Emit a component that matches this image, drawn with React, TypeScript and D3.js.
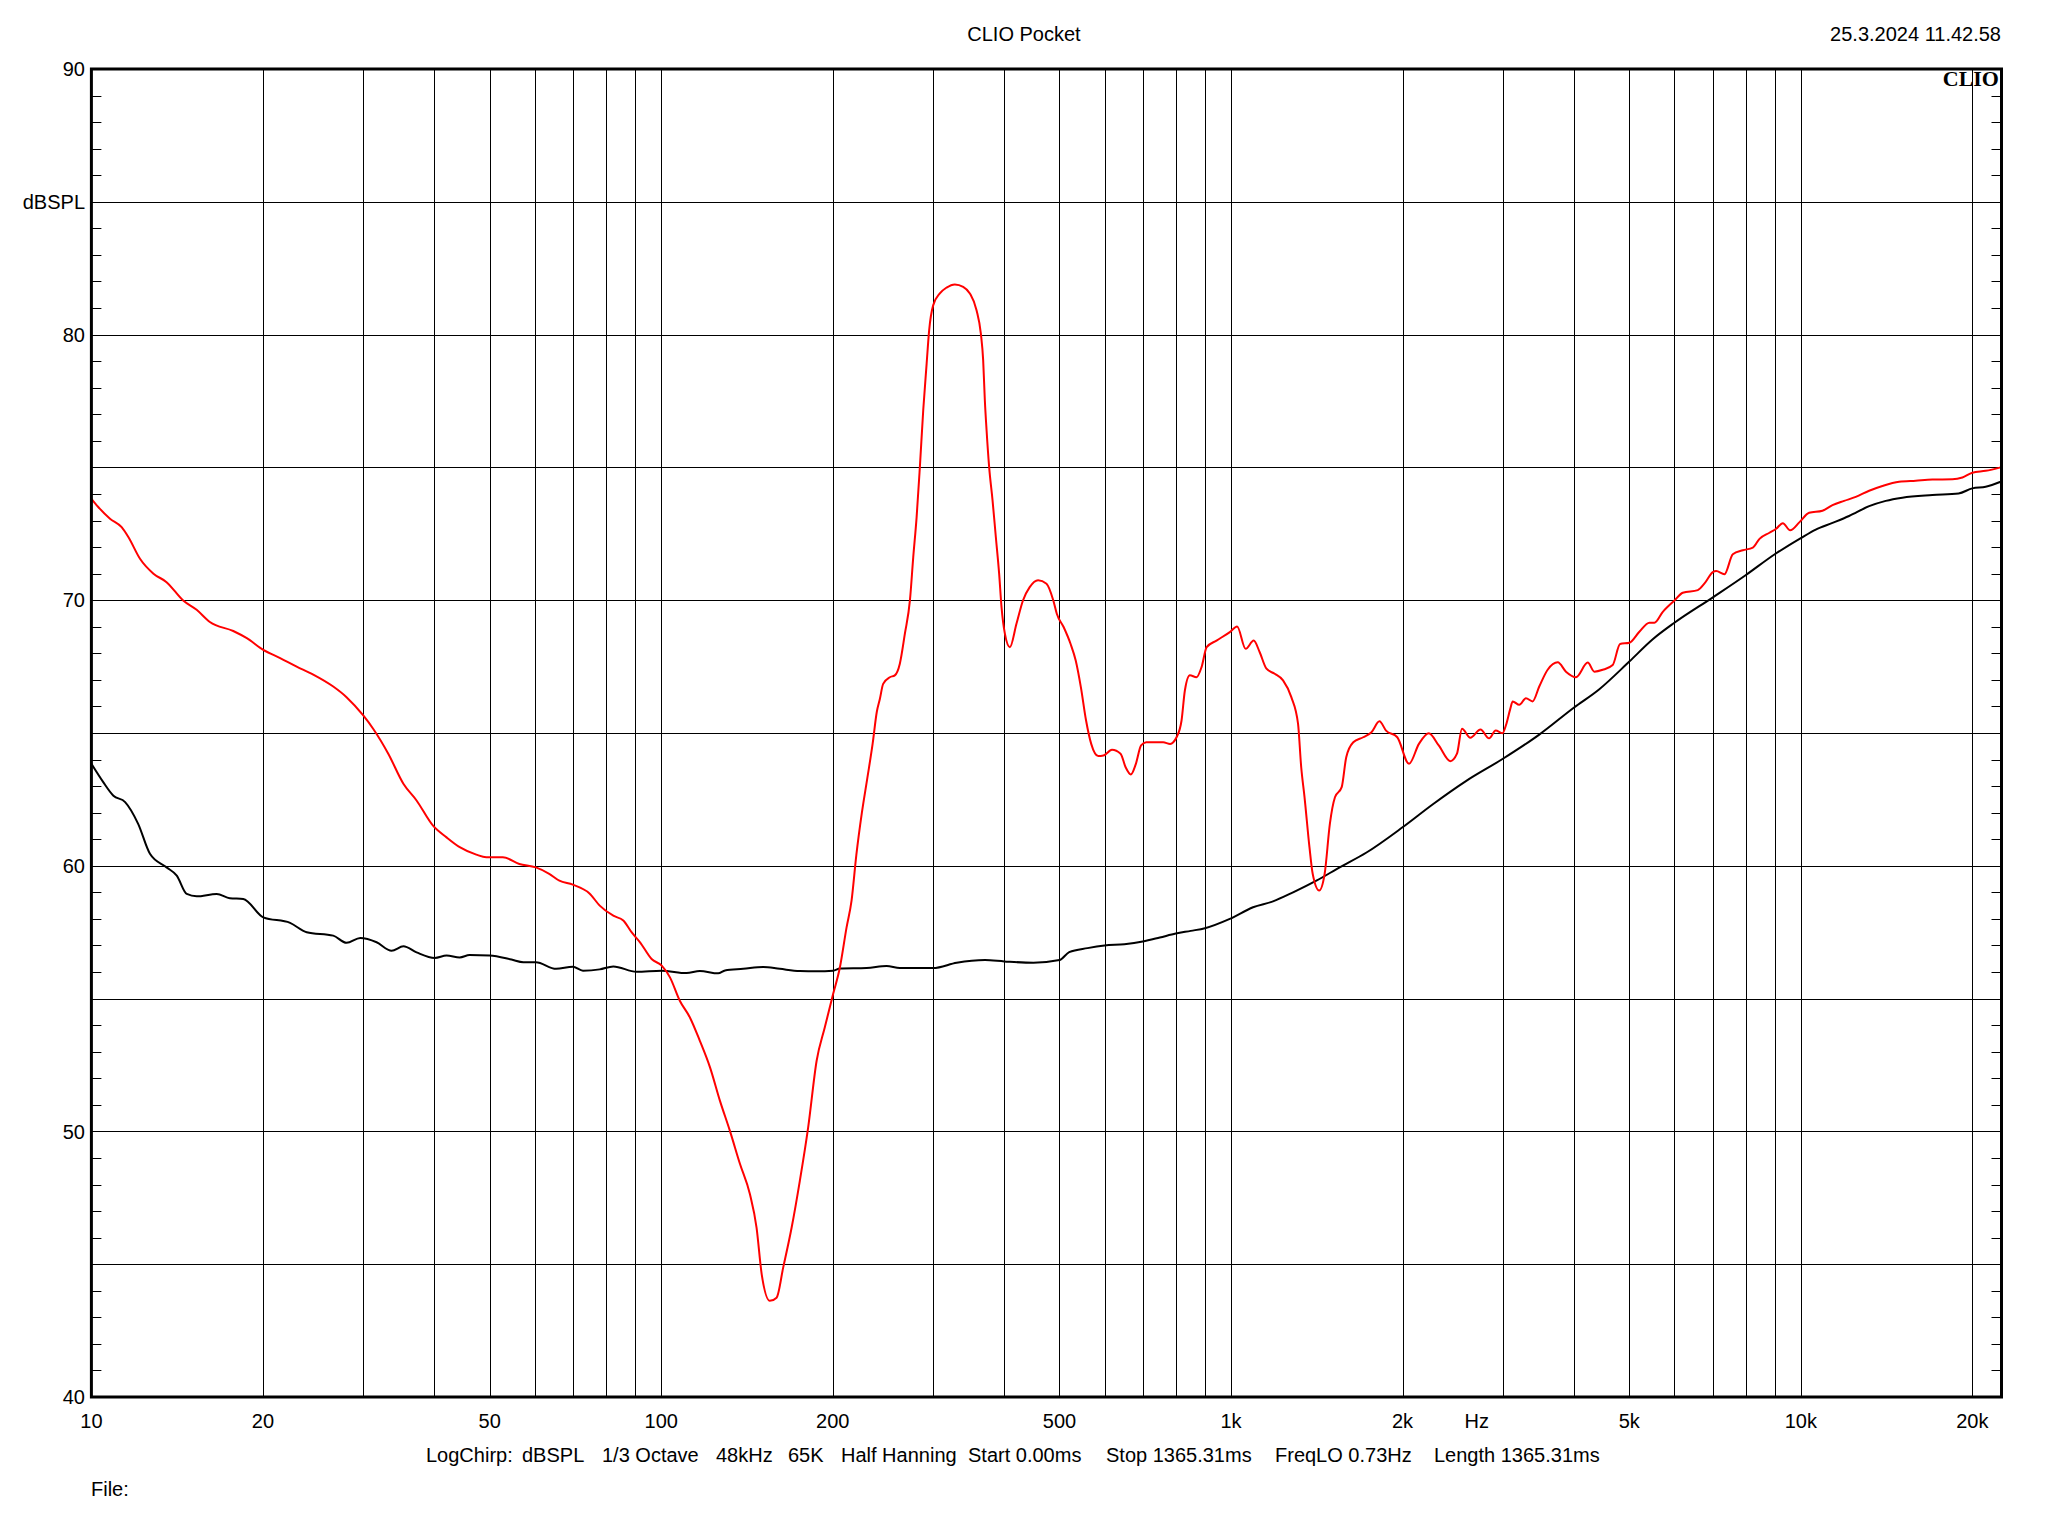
import React from "react";
import * as d3 from "d3";

// ---- data (frequency in Hz, level in dBSPL) ----
const redFreq = [10.0,10.28,10.78,11.3,11.61,12.17,12.85,13.55,14.49,15.3,16.14,17.74,18.74,20.03,21.44,22.92,24.51,26.57,28.04,30.0,31.22,33.19,35.28,37.21,39.77,42.0,44.3,47.37,49.32,52.73,56.37,60.26,63.6,66.27,69.96,74.84,78.0,82.4,85.8,88.7,91.8,96.2,100.2,103.6,107.8,112.3,116.9,121.8,126.8,132.0,137.5,143.1,147.0,150.1,155.1,159.4,163.7,169.4,175.1,181.1,187.4,193.7,200.3,205.9,211.5,215.8,220,225,230,235,239,242.0,245.2,251.9,257.0,262.3,267.7,273.2,276.9,280.7,284.4,288.3,292.3,295.3,300.1,308.3,316.8,327.6,338.8,348.1,357.6,363.9,367.3,369.8,372.4,376.3,381.5,386.6,391.8,395.6,401.0,409.2,420.2,431.4,443.3,458.6,474.5,487.7,494.6,508.4,522.8,533.9,545.1,556.7,568.4,584.7,597.1,618.2,640.0,653.2,667.1,680.8,695.3,709.8,760.3,781.9,802.4,818.8,829.9,846.7,869.9,887.8,906.2,943.1,995.2,1025,1061,1096,1123,1154,1193,1234,1276,1311,1328,1346,1373,1391,1428,1460,1491,1522,1564,1593,1639,1706,1764,1822,1871,1958,2053,2137,2224,2315,2426,2492,2543,2630,2741,2837,2914,2995,3038,3090,3121,3206,3293,3382,3475,3595,3745,3871,4031,4227,4342,4491,4676,4817,5003,5208,5424,5535,5725,6009,6206,6596,6776,7008,7104,7345,7597,7911,8237,8462,8810,9051,9298,9579,9948,10342,10914,11365,11912,12487,13180,13906,14876,15910,17017,18450,19210,20000,21107,22420];
const redDb = [73.82,73.51,73.07,72.75,72.38,71.56,71.0,70.68,69.99,69.64,69.18,68.84,68.57,68.13,67.82,67.5,67.2,66.75,66.35,65.66,65.16,64.22,63.09,62.46,61.51,61.07,60.7,60.42,60.32,60.32,60.07,59.94,59.7,59.44,59.29,58.96,58.5,58.12,57.94,57.5,57.12,56.49,56.24,55.8,54.92,54.29,53.41,52.41,51.15,50.02,48.77,47.64,46.38,44.62,43.62,43.74,44.87,46.38,48.14,50.15,52.66,53.92,55.17,56.18,57.68,58.69,60.4,62.0,63.3,64.6,65.8,66.29,66.85,67.1,67.17,67.61,68.74,69.99,71.62,73.13,75.01,77.15,78.91,80.17,81.1,81.55,81.77,81.89,81.8,81.55,80.92,80.04,79.04,77.53,76.4,75.01,73.76,72.38,71.0,69.74,68.74,68.23,69.11,69.99,70.49,70.75,70.62,69.99,69.49,68.99,68.36,67.73,66.73,65.47,64.59,64.13,64.15,64.37,64.22,63.71,63.44,63.84,64.53,64.65,64.65,64.59,64.84,65.47,66.6,67.17,67.1,67.48,68.23,68.48,68.8,69.01,68.17,68.48,68.04,67.42,67.23,66.98,66.35,65.35,63.71,62.58,60.7,59.7,59.07,59.7,61.58,62.58,62.96,64.09,64.65,64.84,65.03,65.44,65.09,64.84,63.84,64.59,64.99,64.53,63.94,64.22,65.16,64.82,65.13,64.8,65.09,64.99,65.3,65.9,66.19,66.06,66.31,66.19,66.75,67.38,67.66,67.31,67.1,67.65,67.31,67.38,67.56,68.35,68.4,68.81,69.15,69.15,69.56,70.0,70.28,70.38,70.63,71.06,71.1,70.98,71.73,71.88,71.98,72.31,72.54,72.69,72.9,72.63,72.94,73.29,73.37,73.58,73.74,73.89,74.12,74.3,74.46,74.5,74.54,74.55,74.62,74.8,74.87,75.0];

const blackFreq = [10.0,10.49,10.93,11.46,12.08,12.67,13.55,14.12,14.7,15.3,16.59,17.5,18.47,20.03,22.32,23.87,26.57,28.04,29.64,31.66,33.64,35.28,37.21,40.05,42.0,44.3,46.1,50.0,54.6,57.3,60.26,65.4,69.96,72.9,78.0,82.4,90.5,100.2,110.8,116.9,125.9,129.4,139.3,151.0,161.5,175.1,187.4,200.3,205.9,229.3,248.6,262.3,300,330,370,400,450,500,520,560,600,650,700,750,800,850,900,995,1093,1185,1285,1412,1551,1729,2000,2258,2584,3000,3475,4000,4430,5000,5497,6000,7000,8000,9000,10000,10623,11365,12152,13180,14094,15071,17017,18920,20000,21107,22420];
const blackDb = [63.84,63.15,62.64,62.4,61.58,60.45,59.94,59.63,58.94,58.85,58.94,58.78,58.75,58.06,57.85,57.5,57.37,57.1,57.28,57.12,56.8,56.97,56.74,56.53,56.62,56.55,56.64,56.62,56.47,56.37,56.37,56.12,56.2,56.05,56.1,56.21,56.01,56.05,55.96,56.04,55.95,56.06,56.12,56.19,56.12,56.04,56.03,56.05,56.13,56.15,56.23,56.15,56.15,56.35,56.45,56.4,56.35,56.45,56.75,56.9,57.0,57.05,57.15,57.3,57.45,57.55,57.65,58.0,58.44,58.66,59.0,59.44,59.94,60.5,61.45,62.31,63.19,64.03,64.94,65.96,66.65,67.69,68.53,69.15,70.1,70.94,71.73,72.34,72.66,72.91,73.17,73.54,73.74,73.86,73.96,74.02,74.21,74.27,74.46];

const gridFreqs = [20,30,40,50,60,70,80,90,100,200,300,400,500,600,700,800,900,1000,2000,3000,4000,5000,6000,7000,8000,9000,10000,20000];
const xTickFreqs = [10,20,50,100,200,500,1000,2000,5000,10000,20000];
const xTickLabels = ["10","20","50","100","200","500","1k","2k","5k","10k","20k"];
const yGridDb = [45,50,55,60,65,70,75,80,85];
const yLabelDb = [90,85,80,70,60,50,40];
const yLabels = ["90","dBSPL","80","70","60","50","40"];
const footerParts = ["LogChirp:","dBSPL","1/3 Octave","48kHz","65K","Half Hanning","Start 0.00ms","Stop 1365.31ms","FreqLO 0.73Hz","Length 1365.31ms"];
const footerX = [426,522,602,716,788,841,968,1106,1275,1434];

const W = 2048, H = 1536;
const L = 91.4, R = 2001.5, T = 69, B = 1397;
const FONT = "'Liberation Sans', Arial, sans-serif";

export default function App() {
  const x = d3.scaleLog().domain([10, 22500]).range([L, R]);
  const y = d3.scaleLinear().domain([40, 90]).range([B, T]);
  const mk = d3.line<[number, number]>().x(d => x(d[0])).y(d => y(d[1])).curve(d3.curveMonotoneX);
  const redPath = mk(redFreq.map((f, i) => [f, redDb[i]] as [number, number]));
  const blackPath = mk(blackFreq.map((f, i) => [f, blackDb[i]] as [number, number]));
  const minor = d3.range(41, 90);
  const px = (v: number) => Math.round(v) + 0.5;

  return (
    <svg width={W} height={H} style={{ position: "absolute", left: 0, top: 0, background: "#fff" }} fontFamily={FONT}>
      <rect x={0} y={0} width={W} height={H} fill="#fff" />
      {gridFreqs.map((f) => (
        <line key={"gx" + f} x1={px(x(f))} x2={px(x(f))} y1={T} y2={B} stroke="#000" strokeWidth={1} />
      ))}
      {yGridDb.map((d) => (
        <line key={"gy" + d} x1={L} x2={R} y1={px(y(d))} y2={px(y(d))} stroke="#000" strokeWidth={1} />
      ))}
      {minor.map((d) => (
        <g key={"t" + d}>
          <line x1={L} x2={L + 10} y1={px(y(d))} y2={px(y(d))} stroke="#000" strokeWidth={1} />
          <line x1={R - 10} x2={R} y1={px(y(d))} y2={px(y(d))} stroke="#000" strokeWidth={1} />
        </g>
      ))}
      <path d={blackPath || ""} fill="none" stroke="#000" strokeWidth={2} />
      <path d={redPath || ""} fill="none" stroke="#ff0000" strokeWidth={2} />
      <rect x={L} y={T} width={R - L} height={B - T} fill="none" stroke="#000" strokeWidth={3} />
      {yLabelDb.map((d, i) => (
        <text key={"yl" + d} x={85} y={y(d)} dy="0.36em" textAnchor="end" fontSize={20} fill="#000">{yLabels[i]}</text>
      ))}
      {xTickFreqs.map((f, i) => (
        <text key={"xl" + f} x={x(f)} y={1421} dy="0.36em" textAnchor="middle" fontSize={20} fill="#000">{xTickLabels[i]}</text>
      ))}
      <text x={x(2700)} y={1421} dy="0.36em" textAnchor="middle" fontSize={20} fill="#000">Hz</text>
      <text x={1024} y={34} dy="0.36em" textAnchor="middle" fontSize={20} fill="#000">CLIO Pocket</text>
      <text x={2001} y={34} dy="0.36em" textAnchor="end" fontSize={20} fill="#000">25.3.2024 11.42.58</text>
      <text x={1999} y={86} textAnchor="end" fontSize={22} fontWeight="bold" fontFamily="'Liberation Serif', 'DejaVu Serif', serif" fill="#000">CLIO</text>
      {footerParts.map((s, i) => (
        <text key={"f" + i} x={footerX[i]} y={1455} dy="0.36em" fontSize={20} fill="#000">{s}</text>
      ))}
      <text x={91} y={1489} dy="0.36em" fontSize={20} fill="#000">File:</text>
    </svg>
  );
}
